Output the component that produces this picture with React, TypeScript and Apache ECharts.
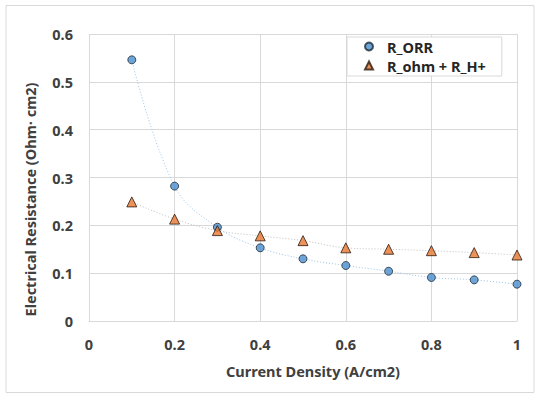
import React, { useEffect, useRef } from "react";
import * as echarts from "echarts";

const currentDensity = [0.1, 0.2, 0.3, 0.4, 0.5, 0.6, 0.7, 0.8, 0.9, 1.0];
const rORR = [0.546, 0.282, 0.196, 0.153, 0.13, 0.116, 0.104, 0.091, 0.086, 0.077];
const rOhmH = [0.249, 0.213, 0.189, 0.178, 0.168, 0.153, 0.15, 0.147, 0.143, 0.138];
const seriesNames = ["R_ORR", "R_ohm + R_H+"];

const FONT = "'Noto Sans', 'Open Sans', sans-serif";
const FS = 14.5;

export default function App() {
  const ref = useRef<HTMLDivElement>(null);
  useEffect(() => {
    if (!ref.current) return;
    const chart = echarts.init(ref.current, null, { renderer: "svg" });
    const orrPts = currentDensity.map((x, i) => [x, rORR[i]]);
    const ohmPts = currentDensity.map((x, i) => [x, rOhmH[i]]);
    chart.setOption({
      animation: false,
      backgroundColor: "#ffffff",
      graphic: [
        {
          type: "rect",
          shape: { x: 6, y: 5.5, width: 528, height: 387 },
          style: { fill: "none", stroke: "#d9d9d9", lineWidth: 1 },
          silent: true,
        },
      ],
      grid: { left: 89, right: 23, top: 34, bottom: 73 },
      legend: {
        data: seriesNames,
        orient: "vertical",
        left: 347,
        top: 37,
        padding: [1, 16, 2, 17],
        itemGap: 2,
        itemWidth: 8,
        itemHeight: 8,
        backgroundColor: "#ffffff",
        borderColor: "#d9d9d9",
        borderWidth: 1,
        textStyle: {
          fontFamily: FONT,
          fontWeight: "bold",
          fontSize: FS,
          lineHeight: 17,
          color: "#262626",
          padding: [0, 0, 0, 9],
        },
      },
      xAxis: {
        type: "value",
        min: 0,
        max: 1,
        interval: 0.2,
        name: "Current Density (A/cm2)",
        nameLocation: "middle",
        nameGap: 42,
        nameTextStyle: {
          fontFamily: FONT,
          fontWeight: "bold",
          fontSize: FS,
          color: "#404040",
          padding: [0, 0, 0, 20],
        },
        axisLine: { show: true, lineStyle: { color: "#d9d9d9" } },
        axisTick: { show: false },
        splitLine: { show: true, lineStyle: { color: "#d9d9d9", width: 1 } },
        axisLabel: {
          fontFamily: FONT,
          fontWeight: "bold",
          fontSize: FS,
          color: "#404040",
          margin: 15,
          formatter: (v: number) => String(Math.round(v * 10) / 10),
        },
      },
      yAxis: {
        type: "value",
        min: 0,
        max: 0.6,
        interval: 0.1,
        name: "Electrical Resistance (Ohm· cm2)",
        nameLocation: "middle",
        nameGap: 52,
        nameTextStyle: {
          fontFamily: FONT,
          fontWeight: "bold",
          fontSize: FS,
          color: "#404040",
          padding: [0, 44, 0, 0],
        },
        axisLine: { show: false },
        axisTick: { show: false },
        splitLine: { show: true, lineStyle: { color: "#d9d9d9", width: 1 } },
        axisLabel: {
          fontFamily: FONT,
          fontWeight: "bold",
          fontSize: FS,
          color: "#404040",
          margin: 16,
          formatter: (v: number) => String(Math.round(v * 10) / 10),
        },
      },
      series: [
        {
          name: "trend1",
          type: "line",
          data: orrPts,
          smooth: 0.4,
          showSymbol: false,
          silent: true,
          lineStyle: { color: "#9dc3e6", width: 1, type: [1, 2] },
          z: 1,
        },
        {
          name: "trend2",
          type: "line",
          data: ohmPts,
          smooth: 0.4,
          showSymbol: false,
          silent: true,
          lineStyle: { color: "#bfbfbf", width: 1, type: [1, 2] },
          z: 1,
        },
        {
          name: seriesNames[0],
          type: "scatter",
          data: orrPts,
          symbol: "circle",
          symbolSize: 8,
          itemStyle: { color: "#4a8ed0", borderColor: "#1f2a36", borderWidth: 1 },
          z: 3,
        },
        {
          name: seriesNames[1],
          type: "scatter",
          data: ohmPts,
          symbol: "triangle",
          symbolSize: 10,
          itemStyle: { color: "#e8772e", borderColor: "#2a1a10", borderWidth: 1 },
          z: 4,
        },
      ],
    });
    return () => chart.dispose();
  }, []);
  return <div ref={ref} style={{ width: 540, height: 394, position: "absolute", left: 0, top: 0 }} />;
}
